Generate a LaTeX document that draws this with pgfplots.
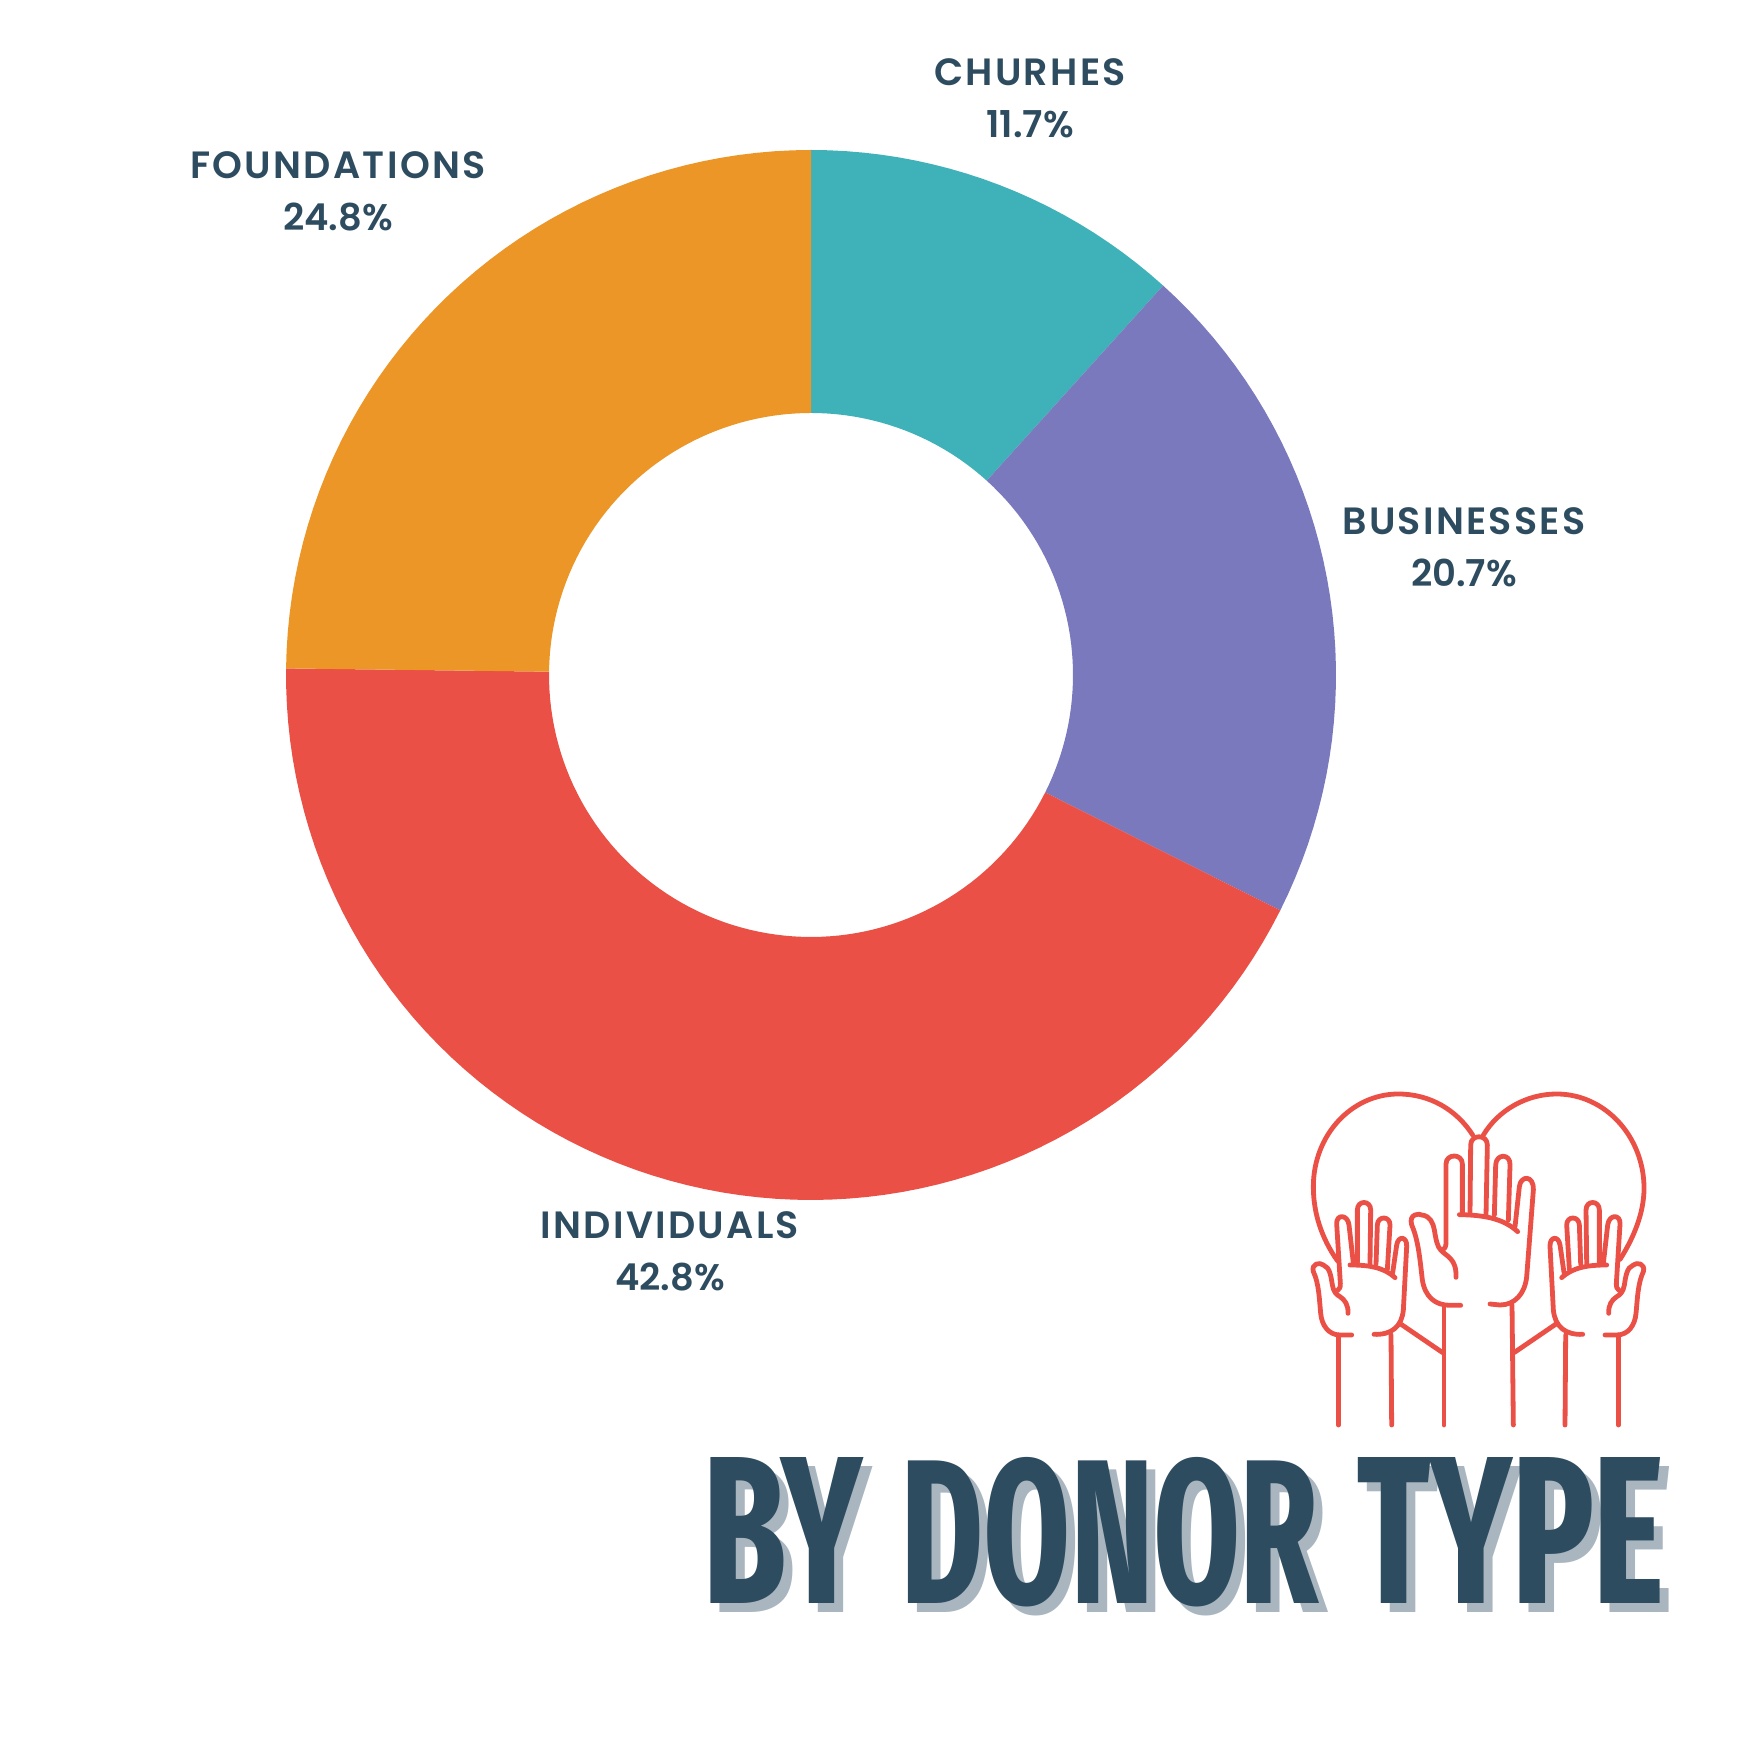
\documentclass[border=0pt]{standalone}
\usepackage{pgfplots}
\usepackage{pgfplotstable}
\usepackage{graphicx}
\usepackage{fontspec}
\pgfplotsset{compat=1.18}
\setmainfont{Poppins SemiBold}
\newfontfamily\capf[LetterSpace=6]{Poppins SemiBold}
\newfontfamily\tf{Fira Sans Extra Condensed Bold}
\definecolor{cTeal}{HTML}{3FB2B9}
\definecolor{cPurple}{HTML}{7A79BD}
\definecolor{cRed}{HTML}{EA5045}
\definecolor{cOrange}{HTML}{EB9626}
\definecolor{cNavy}{HTML}{2E4C60}
\definecolor{cShadow}{HTML}{A9B6BF}
\pgfplotstableread{
name pct from to
Churhes 11.7 0 11.7
Businesses 20.7 11.7 32.4
Individuals 42.8 32.4 75.2
Foundations 24.8 75.2 100
}\donor
% one slice of the ring: from-percent, to-percent, colour
\newcommand\slice[3]{%
  \pgfmathsetmacro\as{90-3.6*#1}\pgfmathsetmacro\ae{90-3.6*#2}%
  \pgfmathtruncatemacro\N{max(2,ceil((#2-#1)*3.6/2))}%
  \gdef\pts{}%
  \foreach \i in {0,...,\N}{\pgfmathsetmacro\a{\as+(\ae-\as)*\i/\N}\xdef\pts{\pts (\a,525)}}%
  \foreach \i in {\N,...,0}{\pgfmathsetmacro\a{\as+(\ae-\as)*\i/\N}\xdef\pts{\pts (\a,262)}}%
  \edef\tmp{\noexpand\addplot[fill=#3,draw=none,mark=none,data cs=polar,forget plot] coordinates {\pts} -- cycle;}%
  \tmp
}
\newcommand\lab[4]{\node[text=cNavy,align=center,inner sep=0pt,font=\fontsize{19}{26}\selectfont] at (axis cs:#1,#2) {{\capf #3}\\{\fontsize{18.5}{26}\selectfont #4}};}
\newcommand\hand{%
  \draw (265,1125) -- (265,855);
  \draw (305,855) -- (270,855) .. controls (235,855) and (215,825) .. (212,790) .. controls (208,750) and (207,700) .. (190,665) .. controls (183,640) and (210,636) .. (220,645) .. controls (240,652) and (243,680) .. (247,705) .. controls (250,725) and (260,735) .. (270,740) .. controls (285,750) and (295,765) .. (294,790);
  \draw (262,722) .. controls (268,718) and (272,712) .. (271,700) -- (260,522) .. controls (258,492) and (293,492) .. (297,525) -- (310,640);
  \draw (322,638) -- (322,480) .. controls (322,450) and (362,450) .. (362,480) -- (360,640);
  \draw (378,642) -- (382,525) .. controls (383,497) and (420,497) .. (420,525) -- (412,658);
  \draw (428,668) -- (440,585) .. controls (445,555) and (472,560) .. (470,590) -- (460,780) .. controls (455,830) and (425,855) .. (372,853);
  \draw (300,645) .. controls (350,645) and (400,650) .. (435,683);
  \draw (423,855) -- (425,1125);
  \draw (452,822) -- (578,908);
}
\newcommand\ttl[4]{\node[anchor=base west,inner sep=0pt,text=#4] at (#1,#2) {\resizebox{#3}{73pt}{\tf\ttltext}};}
\newcommand\word[3]{\def\ttltext{#1}\ttl{#2+9}{1755-1603-9}{#3}{cShadow}}
\newcommand\wordb[3]{\def\ttltext{#1}\ttl{#2}{1755-1603}{#3}{cNavy}}
\begin{document}
\begin{tikzpicture}
\begin{axis}[
  anchor=south west, at={(0pt,0pt)},
  scale only axis, width=877.5pt, height=877.5pt,
  xmin=-811, xmax=944, ymin=-1080, ymax=675,
  hide axis, clip=false]
  \slice{0}{11.7}{cTeal}
  \slice{11.7}{32.4}{cPurple}
  \slice{32.4}{75.2}{cRed}
  \slice{75.2}{100}{cOrange}
  \lab{219}{577}{CHURHES}{11.7\%}
  \lab{653}{128}{BUSINESSES}{20.7\%}
  \lab{-141}{-576}{INDIVIDUALS}{42.8\%}
  \lab{-473}{484}{FOUNDATIONS}{24.8\%}
\end{axis}
\path[use as bounding box] (0pt,0pt) rectangle (877.5pt,877.5pt);
\begin{scope}[x=0.5pt,y=0.5pt]
  \word{BY}{703}{79.5pt}
  \word{DONOR}{901}{208.5pt}
  \word{TYPE}{1357}{153pt}
  \wordb{BY}{703}{79.5pt}
  \wordb{DONOR}{901}{208.5pt}
  \wordb{TYPE}{1357}{153pt}
\end{scope}
\begin{scope}[shift={(625pt,352.5pt)},x=0.16667pt,y=-0.16667pt,draw=cRed,line width=2.4pt,line cap=round,line join=round]
  \draw (262,632) .. controls (215,565) and (190,490) .. (190,410) .. controls (190,255) and (305,132) .. (445,132) .. controls (540,132) and (620,180) .. (668,255);
  \draw (700,255) .. controls (745,180) and (830,132) .. (920,132) .. controls (1065,132) and (1182,260) .. (1182,415) .. controls (1182,490) and (1150,565) .. (1110,628);
  \hand
  \begin{scope}[shift={(1370,0)},xscale=-1]\hand\end{scope}
  \draw (582,1125) -- (582,768);
  \draw (632,766) -- (600,766) .. controls (555,766) and (525,740) .. (517,690) .. controls (510,630) and (505,570) .. (485,525) .. controls (475,490) and (510,490) .. (515,495) .. controls (540,497) and (550,520) .. (553,540) .. controls (558,570) and (562,590) .. (572,600) .. controls (590,620) and (620,625) .. (618,682);
  \draw (575,602) .. controls (582,598) and (588,592) .. (588,580) -- (588,342) .. controls (588,310) and (637,310) .. (637,342) -- (637,490);
  \draw (660,490) -- (662,285) .. controls (662,252) and (712,252) .. (712,285) -- (708,495);
  \draw (733,495) -- (737,345) .. controls (738,310) and (782,310) .. (780,345) -- (775,510);
  \draw (795,530) -- (808,410) .. controls (812,375) and (852,375) .. (850,420) -- (830,680) .. controls (825,730) and (795,765) .. (750,765) -- (720,762);
  \draw (628,494) .. controls (700,495) and (760,505) .. (803,545);
  \draw (786,765) -- (790,1125);
\end{scope}
\end{tikzpicture}
\end{document}
